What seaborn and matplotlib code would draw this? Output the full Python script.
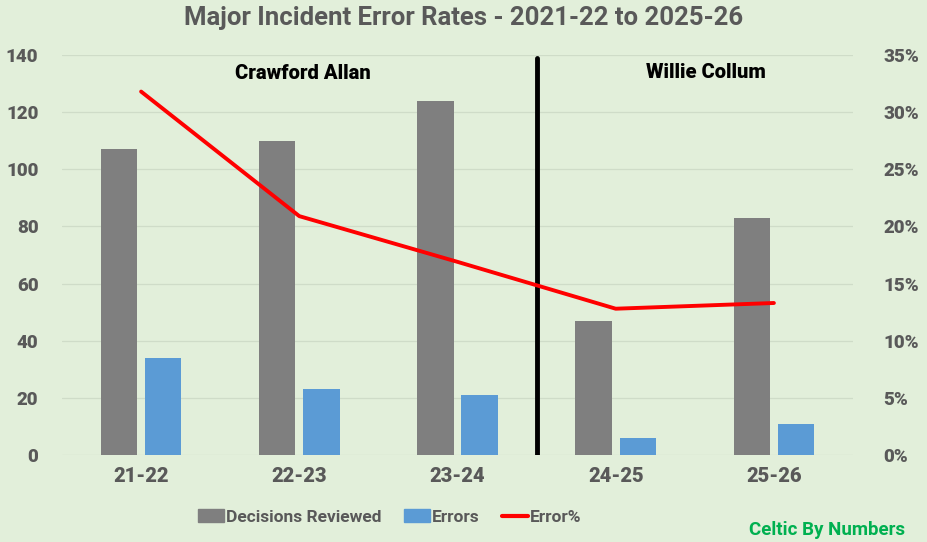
import pandas as pd
import seaborn as sns
import matplotlib.pyplot as plt
from matplotlib.patches import Patch
from matplotlib.lines import Line2D
from matplotlib.ticker import PercentFormatter

seasons = ["21-22", "22-23", "23-24", "24-25", "25-26"]
reviewed = [107, 110, 124, 47, 83]
errors = [34, 23, 21, 6, 11]
error_pct = [0.318, 0.209, 0.169, 0.128, 0.133]

bg = "#E2EFDA"
txt = "#595959"
sns.set_theme(style="white")
plt.rcParams["font.family"] = ["Roboto", "DejaVu Sans"]
plt.rcParams["font.weight"] = "bold"

df = pd.DataFrame({
    "season": seasons * 2,
    "value": reviewed + errors,
    "series": ["Decisions Reviewed"] * 5 + ["Errors"] * 5,
})

fig = plt.figure(figsize=(9.28, 5.42), dpi=100, facecolor=bg)
ax = fig.add_axes([62 / 928, 87 / 542, 791 / 928, 400 / 542])
ax.set_facecolor(bg)

sns.barplot(data=df, x="season", y="value", hue="series", ax=ax,
            palette=["#7F7F7F", "#5B9BD5"], width=0.56, gap=0.18,
            saturation=1, linewidth=0, legend=False)
ax.set_ylim(0, 140)
ax.set_xlim(-0.5, 4.5)
ax.set_yticks(range(0, 141, 20))
ax.yaxis.grid(True, color="#CFDCC8", lw=0.9)
ax.set_axisbelow(True)
ax.set_xlabel("")
ax.set_ylabel("")
for s in ax.spines.values():
    s.set_visible(False)
ax.tick_params(axis="y", length=0, pad=17, labelsize=13.5, labelcolor=txt)
ax.tick_params(axis="x", length=0, pad=9, labelsize=14.5, labelcolor=txt)
for lab in ax.get_xticklabels() + ax.get_yticklabels():
    lab.set_fontweight("black")

ax2 = ax.twinx()
sns.lineplot(x=seasons, y=error_pct, ax=ax2, color="#FF0000", lw=2.8, sort=False)
ax2.set_ylim(0, 0.35)
ax2.set_yticks([i * 0.05 for i in range(8)])
ax2.yaxis.set_major_formatter(PercentFormatter(1.0, decimals=0))
for s in ax2.spines.values():
    s.set_visible(False)
ax2.tick_params(axis="y", length=0, pad=22, labelsize=13.5, labelcolor=txt)
for lab in ax2.get_yticklabels():
    lab.set_horizontalalignment("left")
    lab.set_fontweight("black")

ax.axvline(2.5, ymin=0, ymax=0.993, color="black", lw=3.5, zorder=5)
ax.text(1.02, 133.5, "Crawford Allan", ha="center", va="center",
        fontsize=14.5, color="black", fontweight="black")
ax.text(3.57, 133.8, "Willie Collum", ha="center", va="center",
        fontsize=14.5, color="black", fontweight="black")

fig.text(0.5, 0.966, "Major Incident Error Rates - 2021-22 to 2025-26",
         ha="center", va="center", fontsize=18.5, color=txt, fontweight="bold")

handles = [Patch(color="#7F7F7F"), Patch(color="#5B9BD5"),
           Line2D([], [], color="#FF0000", lw=3)]
fig.legend(handles, ["Decisions Reviewed", "Errors", "Error%"],
           loc="center", bbox_to_anchor=(0.42, 0.046), ncol=3, frameon=False,
           labelcolor=txt, handlelength=1.5, handletextpad=0.15,
           columnspacing=1.25, prop={"weight": "bold", "size": 12.5})

fig.text(0.975, 0.022, "Celtic By Numbers", ha="right", va="center",
         fontsize=13.5, color="#00B050", fontweight="bold")

fig.savefig("out.png", dpi=100, facecolor=bg)
